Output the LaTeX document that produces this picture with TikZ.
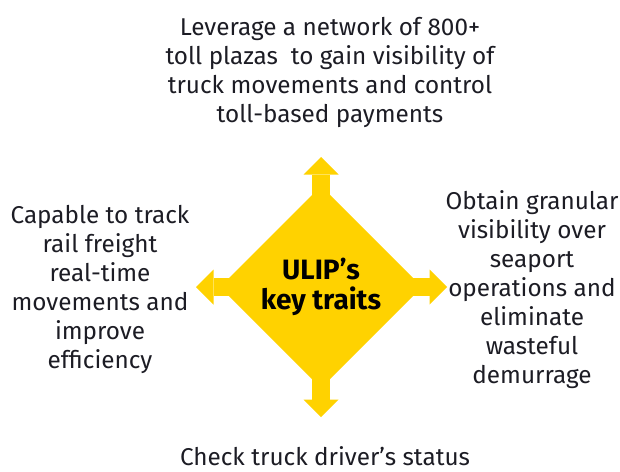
\documentclass[tikz,border=0pt]{standalone}
\usepackage{fontspec}
\setmainfont{Fira Sans}
\usetikzlibrary{arrows.meta,calc,shapes.geometric}
\definecolor{ulipyellow}{HTML}{FFD200}
\definecolor{traitink}{HTML}{1C1C24}
\tikzset{
	trait/.style={align=center, text=traitink, inner sep=0pt, font=\fontsize{24.3}{29}\selectfont},
	hubbox/.style={diamond, fill=ulipyellow, minimum width=202pt, minimum height=202pt, inner sep=0pt, outer sep=0pt, align=center, text=black, font=\bfseries\fontsize{28}{29.5}\selectfont},
	traitarrow/.style={draw=ulipyellow, line width=17.5pt, -{Triangle[width=35pt,length=17.5pt,line width=0pt]}}
}

\begin{document}
\begin{tikzpicture}[x=1pt, y=-1pt]
		%%%%% START %%%%%
		\useasboundingbox (0, 0) rectangle (620, 471);
		
		\node[hubbox] (hub) at (321, 287) {ULIP's\\key traits};
		
		\coordinate (tipN) at (321, 157);
		\coordinate (tipS) at (321, 417);
		\coordinate (tipW) at (196, 287);
		\coordinate (tipE) at (447, 287);
		
		\draw[traitarrow] ($(hub.north)+(0, 9)$) -- (tipN);
		\draw[traitarrow] ($(hub.south)+(0, -9)$) -- (tipS);
		\draw[traitarrow] ($(hub.west)+(9, 0)$) -- (tipW);
		\draw[traitarrow] ($(hub.east)+(-9, 0)$) -- (tipE);
		
		\node[trait] (toll) at (330, 72) {Leverage a network of 800+\\toll plazas\ \ to gain visibility of\\truck movements and control\\toll-based payments};
		\node[trait] (rail) at (100, 289) {Capable to track\\rail freight\\real-time\\movements and\\improve\\efficiency};
		\node[trait] (port) at (532, 290) {Obtain granular\\visibility over\\seaport\\operations and\\eliminate\\wasteful\\demurrage};
		\node[trait] (driver) at (325, 456) {Check truck driver's status};
		
		%%%%% END %%%%%
	\end{tikzpicture}
\end{document}
